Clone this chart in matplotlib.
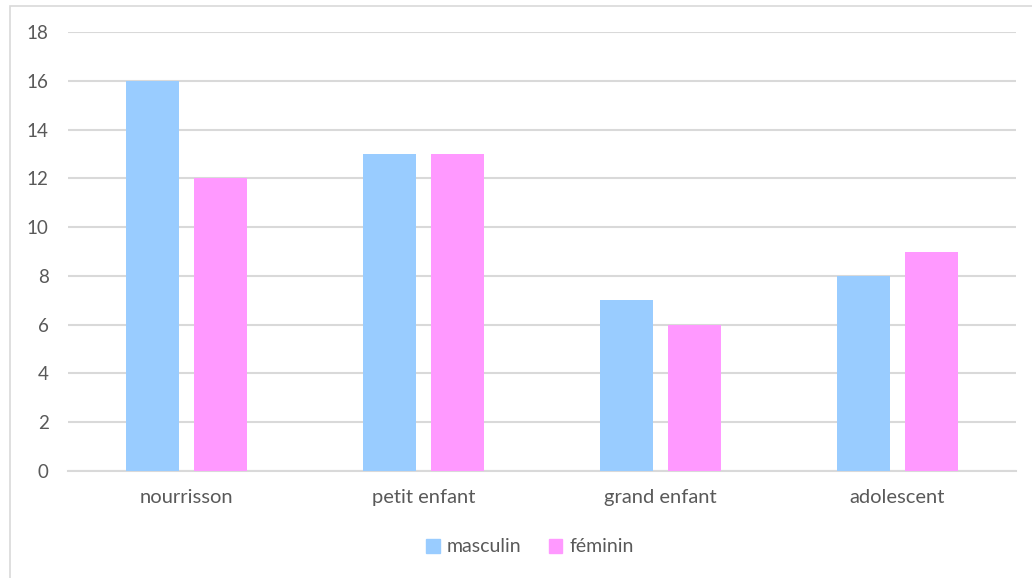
import matplotlib
matplotlib.use("Agg")
import matplotlib.pyplot as plt
import numpy as np
from matplotlib.patches import Rectangle, Patch

categories = ["nourrisson", "petit enfant", "grand enfant", "adolescent"]
masculin = [16, 13, 7, 8]
feminin = [12, 13, 6, 9]
series_names = ["masculin", "féminin"]
yticks = [0, 2, 4, 6, 8, 10, 12, 14, 16, 18]

BLUE = "#99CCFF"
PINK = "#FF99FF"
GRID = "#D9D9D9"
TEXT = "#595959"

plt.rcParams["font.family"] = ["Lato", "DejaVu Sans"]

W, H = 1032, 578
fig = plt.figure(figsize=(W / 100, H / 100), dpi=100)
fig.patch.set_facecolor("white")

# Chart-area frame
fig.patches.append(Rectangle((10 / W, -0.05), 1.2, (H - 6) / H + 0.05,
                             transform=fig.transFigure, fill=False,
                             edgecolor=GRID, linewidth=1.2))

ax = fig.add_axes([68 / W, (H - 471) / H, (1016 - 68) / W, (471 - 32) / H])

x = np.arange(len(categories))
bw = 0.22
gap = 0.067
ax.bar(x - (bw + gap) / 2, masculin, bw, color=BLUE, zorder=3)
ax.bar(x + (bw + gap) / 2, feminin, bw, color=PINK, zorder=3)

ax.set_xlim(-0.5, len(categories) - 0.5)
ax.set_ylim(0, 18)
ax.set_yticks(yticks)
ax.set_xticks(x)
ax.set_xticklabels(categories)
ax.yaxis.grid(True, color=GRID, linewidth=1.5, zorder=0)
for s in ["top", "right", "left"]:
    ax.spines[s].set_visible(False)
ax.spines["bottom"].set_color(GRID)
ax.spines["bottom"].set_linewidth(1.5)
ax.tick_params(axis="both", length=0, colors=TEXT)
ax.tick_params(axis="y", pad=14, labelsize=13.5)
ax.tick_params(axis="x", pad=13, labelsize=14.5)

handles = [Patch(color=BLUE), Patch(color=PINK)]
fig.legend(handles, series_names, loc="center", bbox_to_anchor=(530 / W, (H - 547) / H),
           ncol=2, frameon=False, fontsize=14, labelcolor=TEXT,
           handlelength=0.7, handleheight=0.7, handletextpad=0.35, columnspacing=1.4)

fig.savefig("out.png", dpi=100)
